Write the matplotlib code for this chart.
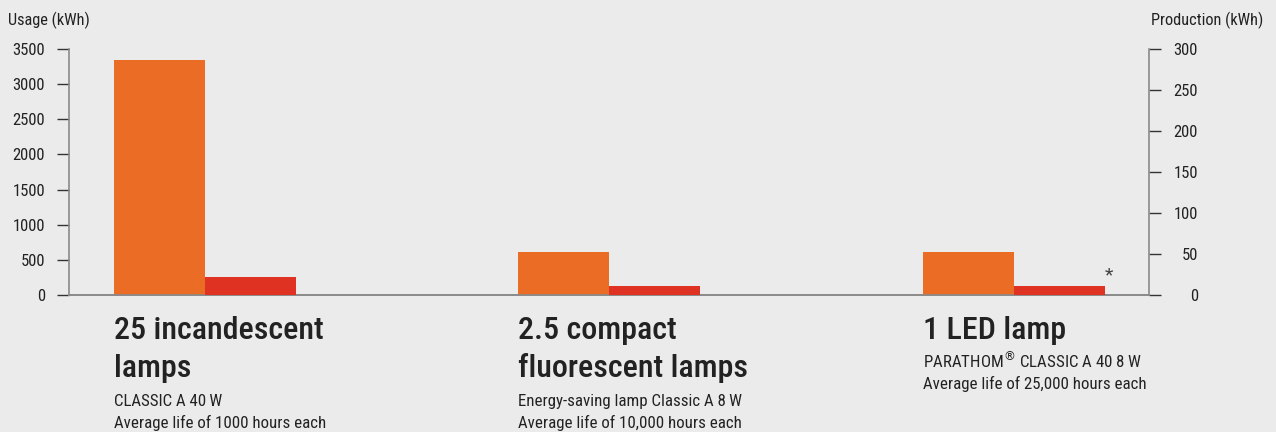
import matplotlib
matplotlib.use("Agg")
import matplotlib.pyplot as plt
import matplotlib.transforms as mtransforms
from matplotlib import font_manager as fm
import numpy as np

# ---- data ----
groups = ["25 incandescent\nlamps", "2.5 compact\nfluorescent lamps", "1 LED lamp"]
subtexts = ["CLASSIC A 40\u2009W\nAverage life of 1000 hours each",
            "Energy-saving lamp Classic A 8\u2009W\nAverage life of 10,000 hours each",
            "PARATHOM$^{\u00ae}$ CLASSIC A 40 8\u2009W\nAverage life of 25,000 hours each"]
usage_kwh = [3340, 615, 612]
production_kwh = [22, 11, 11]
left_ticks = [0, 500, 1000, 1500, 2000, 2500, 3000, 3500]
right_ticks = [0, 50, 100, 150, 200, 250, 300]

BG = "#ebebeb"
ORANGE = "#ea6c25"
RED = "#e03222"
TXT = "#222222"
SPINE = "#8a8a8a"

available = {f.name for f in fm.fontManager.ttflist}
pref = ['Roboto Condensed', 'Archivo Narrow', 'DejaVu Sans']
main_font = next(f for f in pref if f in available)
FONT = [main_font, 'DejaVu Sans']
plt.rcParams['font.family'] = FONT

W, H = 1276, 432
fig = plt.figure(figsize=(W / 100, H / 100), dpi=100, facecolor=BG)
ax = fig.add_axes([69 / W, 137 / H, (1149 - 69) / W, 246 / H])
ax.set_facecolor(BG)
ax2 = ax.twinx()

x = np.arange(len(groups))
bw = 0.225
ax.bar(x - bw / 2, usage_kwh, width=bw, color=ORANGE, zorder=3)
ax2.bar(x + bw / 2, production_kwh, width=bw, color=RED, zorder=3)

ax.set_xlim(-0.336, 2.334)
ax.set_ylim(0, 3500)
ax2.set_ylim(0, 300)
ax.set_yticks(left_ticks)
ax2.set_yticks(right_ticks)
ax.set_xticks([])

for a in (ax, ax2):
    for s in a.spines.values():
        s.set_visible(False)
    a.spines['bottom'].set_visible(True)
    a.spines['bottom'].set_color(SPINE)
    a.spines['bottom'].set_linewidth(1.2)
ax.spines['left'].set_visible(True)
ax.spines['left'].set_color(SPINE)
ax.spines['left'].set_linewidth(1.2)
ax2.spines['right'].set_visible(True)
ax2.spines['right'].set_color(SPINE)
ax2.spines['right'].set_linewidth(1.2)

ax.tick_params(axis='y', length=8.6, width=1, color='#333333', pad=8.6,
               labelsize=12, labelcolor=TXT)
ax2.tick_params(axis='y', length=8.6, width=1, color='#333333', pad=26.7,
                labelsize=12, labelcolor=TXT)
for lab in ax2.get_yticklabels():
    lab.set_horizontalalignment('right')

# axis titles
fig.text(8 / W, 1 - 25 / H, "Usage (kWh)", fontsize=11.8, color=TXT, ha='left', va='baseline')
fig.text(1263 / W, 1 - 25 / H, "Production (kWh)", fontsize=11.8, color=TXT, ha='right', va='baseline')

# asterisk over LED production bar
ax2.annotate("*", xy=(x[2] + bw, production_kwh[2]), xytext=(3, 1),
             textcoords='offset points', fontsize=14, color='#444444', ha='center', va='bottom')

# category labels under the axis
trans = mtransforms.blended_transform_factory(ax.transData, ax.transAxes)
def ay(py):
    return (295 - py) / 246

for i, (g, s) in enumerate(zip(groups, subtexts)):
    xl = x[i] - bw
    lines = g.split("\n")
    ax.text(xl, ay(339), lines[0], transform=trans, fontsize=23, color=TXT,
            ha='left', va='baseline', clip_on=False, fontweight='medium')
    if len(lines) > 1:
        ax.text(xl, ay(377), lines[1], transform=trans, fontsize=23, color=TXT,
                ha='left', va='baseline', clip_on=False, fontweight='medium')
        sy = [406, 428]
    else:
        sy = [368, 389]
    for sl, yy in zip(s.split("\n"), sy):
        ax.text(xl, ay(yy), sl, transform=trans, fontsize=12.2, color=TXT,
                ha='left', va='baseline', clip_on=False)

fig.savefig("out.png", dpi=100, facecolor=BG)
